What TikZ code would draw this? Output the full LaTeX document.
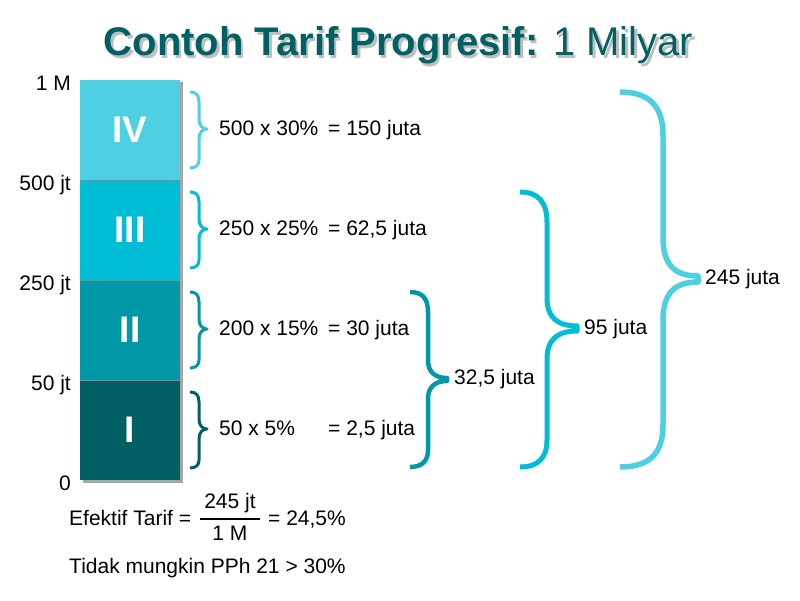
\documentclass[tikz,border=0pt]{standalone}
\usepackage{fontspec}
\setmainfont{Liberation Sans}
\usetikzlibrary{positioning}
\definecolor{tierI}{HTML}{006064}
\definecolor{tierII}{HTML}{0097A7}
\definecolor{tierIII}{HTML}{00BCD4}
\definecolor{tierIV}{HTML}{4DD0E1}
\begin{document}
\begin{tikzpicture}[x=1pt,y=-1pt,
  txt/.style={font=\fontsize{21}{25}\selectfont,inner sep=0pt},
  heading/.style={font=\fontsize{40}{44}\selectfont,inner sep=0pt,anchor=base},
  bar/.style={minimum width=100pt,minimum height=100pt,inner sep=0pt,text=white,
    font=\fontsize{37}{40}\selectfont\bfseries},
  brace/.style={line width=3pt,line cap=butt,line join=round}]
  \useasboundingbox (0,0) rectangle (800,600);
  % title with its soft shadow
  \node[heading,text=black,text opacity=0.25] at (401,58) {\textbf{Contoh Tarif Progresif:} 1 Milyar};
  \node[heading,text=tierI] (title) at (398.5,55) {\textbf{Contoh Tarif Progresif:} 1 Milyar};
  % the four brackets as one stacked bar
  \fill[black!35] (83,82) rectangle (183,483);
  \node[bar,fill=tierIV] (b4) at (130,130) {IV};
  \node[bar,fill=tierIII] (b3) at (130,230) {III};
  \node[bar,fill=tierII] (b2) at (130,330) {II};
  \node[bar,fill=tierI] (b1) at (130,430) {I};
  \draw[black!45,line width=1pt] (b4.south west) -- (b4.south east);
  \draw[black!45,line width=1pt] (b3.south west) -- (b3.south east);
  \draw[black!45,line width=1pt] (b2.south west) -- (b2.south east);
  % axis marks
  \node[txt,anchor=base east] (m1) at (71,90) {1 M};
  \node[txt,anchor=base east] (m500) at (71,190) {500 jt};
  \node[txt,anchor=base east] (m250) at (71,290) {250 jt};
  \node[txt,anchor=base east] (m50) at (71,390) {50 jt};
  \node[txt,anchor=base east] (m0) at (71,490) {0};
  % one small brace per bracket
  \draw[brace,tierIV] (190,92) .. controls (196,92) and (199,95) .. (199,102) -- (199,119)
    .. controls (199,125) and (202,129) .. (207,129) .. controls (202,129) and (199,133) .. (199,139)
    -- (199,160) .. controls (199,165) and (196,168) .. (190,168);
  \draw[brace,tierIII,shift={(0,100)}] (190,92) .. controls (196,92) and (199,95) .. (199,102) -- (199,119)
    .. controls (199,125) and (202,129) .. (207,129) .. controls (202,129) and (199,133) .. (199,139)
    -- (199,160) .. controls (199,165) and (196,168) .. (190,168);
  \draw[brace,tierII,shift={(0,200)}] (190,92) .. controls (196,92) and (199,95) .. (199,102) -- (199,119)
    .. controls (199,125) and (202,129) .. (207,129) .. controls (202,129) and (199,133) .. (199,139)
    -- (199,160) .. controls (199,165) and (196,168) .. (190,168);
  \draw[brace,tierI,shift={(0,300)}] (190,92) .. controls (196,92) and (199,95) .. (199,102) -- (199,119)
    .. controls (199,125) and (202,129) .. (207,129) .. controls (202,129) and (199,133) .. (199,139)
    -- (199,160) .. controls (199,165) and (196,168) .. (190,168);
  % tax per bracket
  \node[txt,anchor=base west] (r4a) at (219,135) {500 x 30\%};
  \node[txt,anchor=base west] (r4b) at (328,135) {= 150 juta};
  \node[txt,anchor=base west] (r3a) at (219,235) {250 x 25\%};
  \node[txt,anchor=base west] (r3b) at (328,235) {= 62,5 juta};
  \node[txt,anchor=base west] (r2a) at (219,335) {200 x 15\%};
  \node[txt,anchor=base west] (r2b) at (328,335) {= 30 juta};
  \node[txt,anchor=base west] (r1a) at (219,435) {50 x 5\%};
  \node[txt,anchor=base west] (r1b) at (328,435) {= 2,5 juta};
  % running totals
  \draw[brace,tierII,line width=4.5pt] (410,292) .. controls (422,292) and (428,298) .. (428,312) -- (428,360)
    .. controls (428,372) and (435,378) .. (447,378) -- (447,381) .. controls (435,381) and (428,387) .. (428,399)
    -- (428,450) .. controls (428,461) and (422,467) .. (410,467);
  \node[txt,anchor=base west] (s2) at (454,384) {32,5 juta};
  \draw[brace,tierIII,line width=5pt] (520,192) .. controls (538,192) and (547,202) .. (547,222) -- (547,298)
    .. controls (547,318) and (558,326) .. (577,326) -- (577,331) .. controls (558,331) and (547,339) .. (547,359)
    -- (547,440) .. controls (547,458) and (538,467) .. (520,467);
  \node[txt,anchor=base west] (s3) at (584,334) {95 juta};
  \draw[brace,tierIV,line width=5.5pt] (620,92) .. controls (648,92) and (663,105) .. (663,135) -- (663,238)
    .. controls (663,265) and (675,276) .. (698,276) -- (698,282) .. controls (675,282) and (663,293) .. (663,320)
    -- (663,425) .. controls (663,455) and (648,467) .. (620,467);
  \node[txt,anchor=base west] (s4) at (705,284) {245 juta};
  % effective rate
  \node[txt,anchor=base west] (eff) at (69,525) {Efektif Tarif =};
  \coordinate (fl) at (200,519);
  \coordinate (fr) at (260,519);
  \draw[line width=1.6pt] (fl) -- (fr);
  \node[txt,anchor=base] (num) at (230,508) {245 jt};
  \node[txt,anchor=base] (den) at (230,540) {1 M};
  \node[txt,anchor=base west] (res) at (268,525) {= 24,5\%};
  \node[txt,anchor=base west] (note) at (69,573) {Tidak mungkin PPh 21 > 30\%};
\end{tikzpicture}
\end{document}
